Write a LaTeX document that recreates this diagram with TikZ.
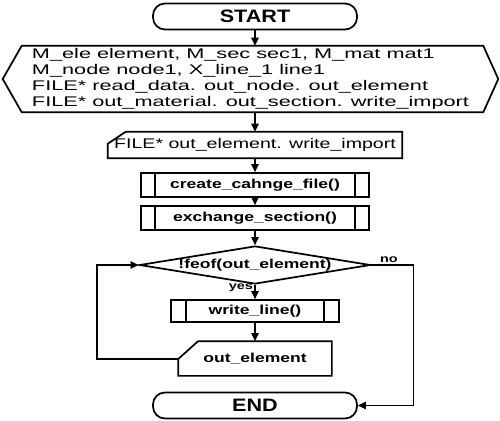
\documentclass[tikz,border=0pt]{standalone}
\usepackage{fontspec}
\usetikzlibrary{calc,shapes.geometric,arrows.meta}
\newfontfamily\declfont[FakeStretch=1.55]{Liberation Sans}
\newfontfamily\cardfont[FakeStretch=1.4]{Liberation Sans}
\newfontfamily\boxfont[FakeStretch=1.35]{Liberation Sans}
\newfontfamily\termfont[FakeStretch=1.2]{Liberation Sans}
\def\subbars(#1)(#2){\draw[outline] ([xshift=#2]#1.north west) -- ([xshift=#2]#1.south west); \draw[outline] ([xshift=-#2]#1.north east) -- ([xshift=-#2]#1.south east);}
\def\cardedge(#1)(#2:#3){\draw[outline] ([yshift=-#3]#1.north west) -- ([xshift=#2]#1.north west) -- (#1.north east) -- (#1.south east) -- (#1.south west) -- cycle;}

\tikzset{
  outline/.style={line width=1.3pt},
  terminal/.style={outline, draw, rounded corners=9pt, minimum width=153pt, minimum height=19.5pt, font=\termfont\bfseries\fontsize{13.5}{16}\selectfont},
  subproc/.style={outline, draw, minimum height=18pt, font=\boxfont\bfseries\fontsize{9.75}{12}\selectfont},
  decision/.style={outline, draw, diamond, aspect=6.1, inner sep=0pt, font=\boxfont\bfseries\fontsize{9.75}{12}\selectfont},
  plaintext/.style={font=\declfont\fontsize{10.5}{12}\selectfont},
  flow/.style={line width=1.1pt, -{Triangle[length=6pt,width=5.5pt]}},
  lbl/.style={font=\boxfont\bfseries\fontsize{8}{9}\selectfont, inner sep=1pt},
}

\begin{document}
\begin{tikzpicture}[x=0.75pt,y=-0.75pt]
	%%%%% START %%%%%
	\useasboundingbox (0,0) rectangle (500,421);

	\node[terminal] (start) at (255,16.5) {START};

	\node[plaintext, inner sep=0pt, minimum width=371.25pt, minimum height=49.5pt, align=left] (decl) at (250.5,79)
		{M\_ele element, M\_sec sec1, M\_mat mat1\\
		 M\_node node1, X\_line\_1 line1\\
		 FILE* read\_data. out\_node. out\_element\\
		 FILE* out\_material. out\_section. write\_import};
	\draw[outline] (decl.west) -- ([xshift=14.25pt]decl.north west) -- ([xshift=-11.25pt]decl.north east) -- (decl.east)
		-- ([xshift=-11.25pt]decl.south east) -- ([xshift=14.25pt]decl.south west) -- cycle;

	\node[plaintext, font=\cardfont\fontsize{10.5}{12}\selectfont, minimum width=220.5pt, minimum height=19.5pt, inner sep=2pt] (filein) at (255,145) {FILE* out\_element. write\_import};
	\cardedge(filein)(13.5pt:9pt)

	\node[subproc, minimum width=171pt] (create) at (255,185) {create\_cahnge\_file()};
	\subbars(create)(11.25pt)

	\node[subproc, minimum width=171pt] (exchange) at (255,218) {exchange\_section()};
	\subbars(exchange)(11.25pt)

	\node[decision, minimum width=173.25pt, minimum height=28.5pt] (test) at (255,265) {!feof(out\_element)};

	\node[subproc, minimum width=126pt, minimum height=16.5pt] (write) at (255,311) {write\_line()};
	\subbars(write)(12pt)

	\node[subproc, draw=none, minimum width=114pt, minimum height=24.75pt] (outcard) at (255,358.5) {out\_element};
	\cardedge(outcard)(15pt:13.5pt)

	\node[terminal] (end) at (255,405.5) {END};

	\draw[flow] (start) -- (start |- decl.north);
	\draw[flow] (decl.south -| filein) -- (filein);
	\draw[flow] (filein) -- (create);
	\draw[flow] (create) -- (exchange);
	\draw[flow] (exchange) -- (test);
	\draw[flow] (test) -- node[lbl, anchor=east, pos=0.2] {yes} (write);
	\draw[flow] (write) -- (outcard);

	\coordinate (back) at ([yshift=-13.5pt]outcard.north west);
	\draw[flow] (back) -- ++(-81,0) |- (test.west);
	\draw[flow] (test.east) node[lbl, anchor=south west, xshift=5pt] {no} -- ++(42,0) |- (end.east);
	%%%%% END %%%%%
\end{tikzpicture}
\end{document}
